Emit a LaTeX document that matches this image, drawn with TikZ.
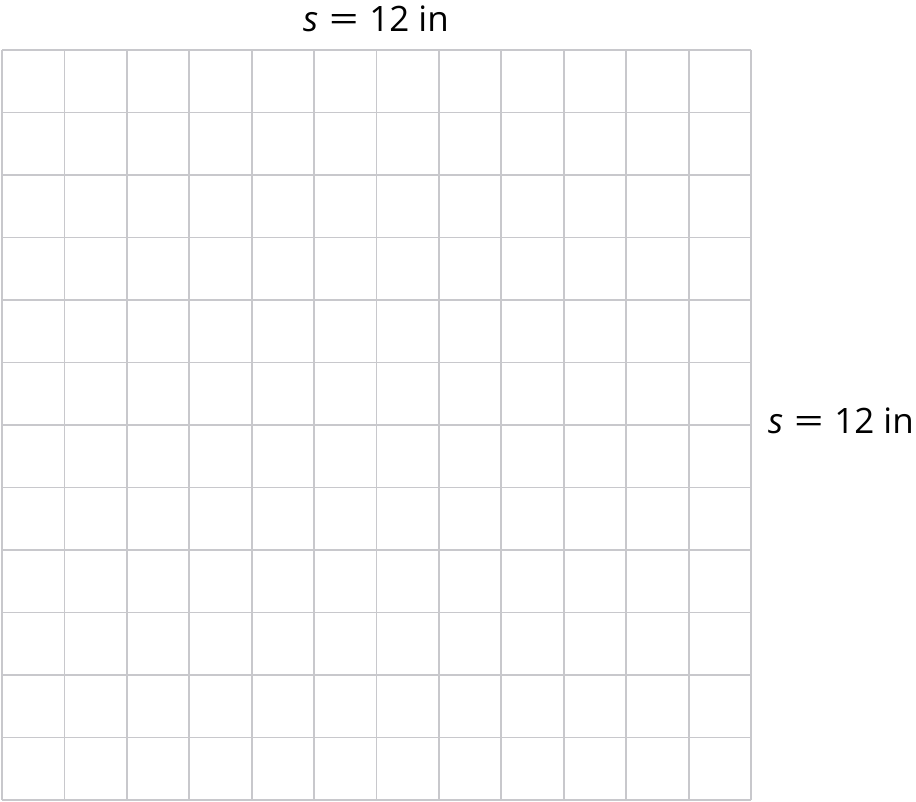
\documentclass[tikz,border=0pt]{standalone}
\usepackage{fontspec}
\setmainfont{Open Sans}
\definecolor{gridgray}{RGB}{200,200,204}
\newcommand{\slabel}{\textit{s}\hspace{0.3em}\scalebox{1.5}[1.0]{=}\hspace{0.3em}12 in}
\begin{document}
\begin{tikzpicture}[x=1pt,y=-1pt,
  lbl/.style={font=\fontsize{35}{42}\selectfont, inner sep=0pt}]
\useasboundingbox (0,0) rectangle (916,802);
\foreach \i in {0,...,12} {
  \draw[gridgray, line width=1.8pt] ({2+\i*62.42},50) -- ({2+\i*62.42},800);
  \draw[gridgray, line width=1.8pt] (2,{50+\i*62.5}) -- (751,{50+\i*62.5});
}
\node[lbl, anchor=base] (top) at (376,32) {\slabel};
\node[lbl, anchor=base west] (right) at (768,433) {\slabel};
\end{tikzpicture}
\end{document}
